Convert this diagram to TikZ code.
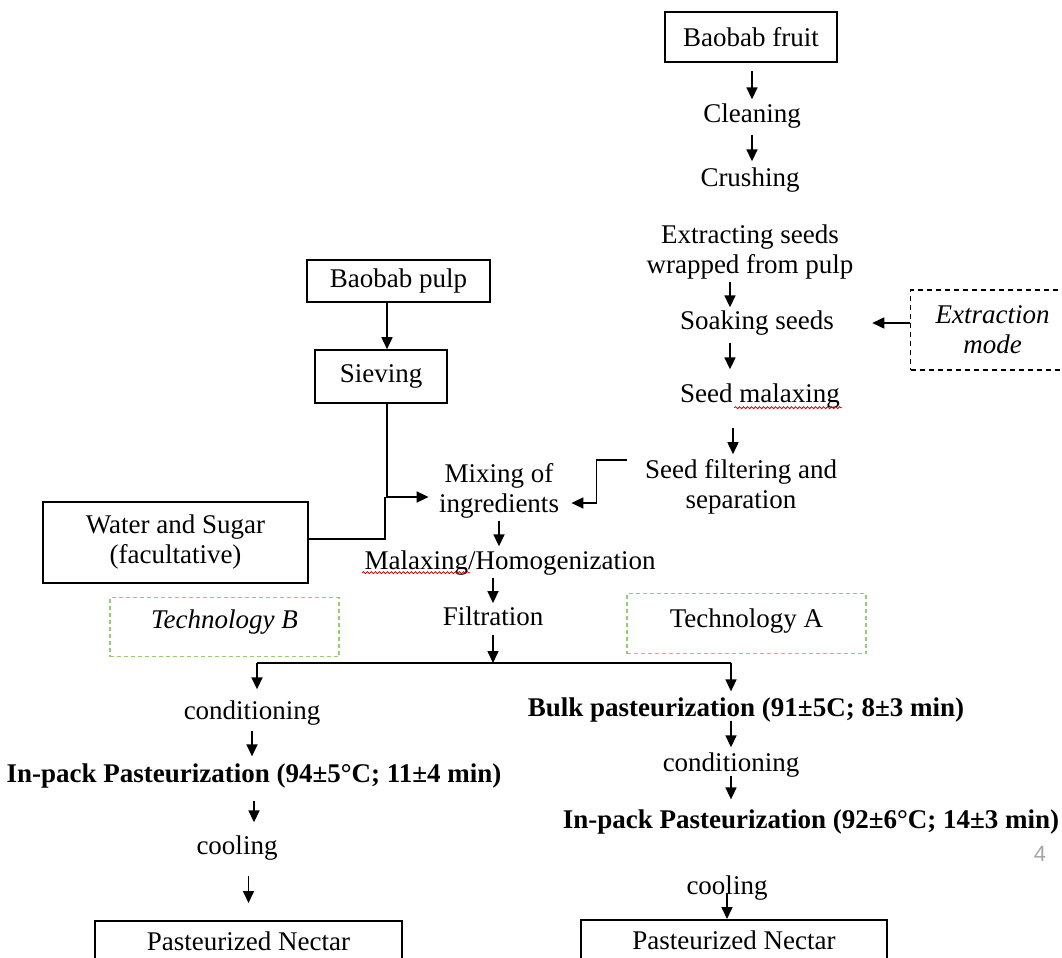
\documentclass[tikz,border=0pt]{standalone}
\usepackage{fontspec}
\setmainfont{Liberation Serif}
\newfontfamily\pagefont{Liberation Sans}
\usetikzlibrary{positioning, arrows.meta, calc, decorations.pathmorphing}
\definecolor{techgreen}{RGB}{146,208,110}
\definecolor{pagegray}{RGB}{165,165,165}

\begin{document}
\begin{tikzpicture}[x=0.5pt, y=-0.5pt,
  txt/.style     = {align=center, inner sep=1pt, font=\fontsize{13.5}{15}\selectfont},
  bold/.style    = {txt, font=\fontsize{13.5}{15}\selectfont\bfseries},
  box/.style     = {txt, draw, line width=0.8pt, inner sep=0pt},
  tech/.style    = {txt, draw=techgreen, line width=0.6pt, dash pattern=on 2pt off 1.5pt,
                    inner sep=0pt, anchor=north},
  modebox/.style = {txt, draw, line width=0.7pt, dash pattern=on 2.5pt off 2pt,
                    font=\fontsize{13.5}{15}\selectfont\itshape},
  flow/.style    = {-{Triangle[length=6pt,width=5.5pt]}, line width=0.8pt},
  link/.style    = {line width=0.8pt},
  squig/.style   = {red!85!black, line width=0.4pt, decorate,
                    decoration={snake, amplitude=0.5pt, segment length=2pt}},
]
\useasboundingbox (0,0) rectangle (1062,958);

% --- seed line -------------------------------------------------------------
\node[box, minimum width=86pt, minimum height=25pt] (fruit) at (751,37) {Baobab fruit};
\node[txt]  (clean)   at (752,116) {Cleaning};
\node[txt]  (crush)   at (750,180) {Crushing};
\node[txt]  (extract) at (750,252) {Extracting seeds\\wrapped from pulp};
\node[txt]  (soak)    at (757,323) {Soaking seeds};
\node[txt]  (malax)   at (760,396) {Seed malaxing};
\node[txt]  (filter)  at (741,487) {Seed filtering and\\separation};
\node[modebox, anchor=west, minimum width=82pt, minimum height=40pt] (ext) at (910,330)
     {Extraction\\mode};

% --- pulp line -------------------------------------------------------------
\node[box, minimum width=91.5pt, minimum height=21pt] (pulp)  at (398.5,281) {Baobab pulp};
\node[box, minimum width=66pt, minimum height=26.5pt] (sieve) at (381,376.5) {Sieving};
\node[box, minimum width=132.5pt, minimum height=40.5pt] (water) at (175.5,542.5)
     {Water and Sugar\\(facultative)};

% --- common steps ----------------------------------------------------------
\node[txt]  (mix)    at (499,491) {Mixing of\\ingredients};
\node[txt]  (homog)  at (510,563) {Malaxing/Homogenization};
\node[txt]  (filtr)  at (493,616) {Filtration};
\node[tech, minimum width=114.5pt, text height=15.5pt, text depth=14pt,
      font=\fontsize{13.5}{15}\selectfont\itshape] (techB) at (224.5,597) {Technology B};
\node[tech, minimum width=119.5pt, text height=17pt, text depth=13pt] (techA) at (746.5,593)
     {Technology A};

% --- technology B ----------------------------------------------------------
\node[txt]  (condB) at (252,713) {conditioning};
\node[bold] (inpB)  at (254,776) {In-pack Pasteurization (94±5°C; 11±4 min)};
\node[txt]  (coolB) at (237,848) {cooling};
\node[box, anchor=north, minimum width=153.5pt, text height=15pt, text depth=30pt]
     (nectB) at (248.5,920) {Pasteurized Nectar};

% --- technology A ----------------------------------------------------------
\node[bold] (bulk)  at (746,710) {Bulk pasteurization (91±5C; 8±3 min)};
\node[txt]  (condA) at (731,765) {conditioning};
\node[bold] (inpA)  at (811,822) {In-pack Pasteurization (92±6°C; 14±3 min)};
\node[txt]  (coolA) at (727,888) {cooling};
\node[box, anchor=north, minimum width=153pt, text height=15pt, text depth=30pt]
     (nectA) at (734,919) {Pasteurized Nectar};

\node[font=\fontsize{11}{12}\selectfont\pagefont, text=pagegray] (page) at (1040,854) {4};

% --- seed arrows -----------------------------------------------------------
\draw[flow, shorten <=4pt, shorten >=1pt] (fruit.south -| clean) -- (clean.north);
\draw[flow, shorten <=2pt, shorten >=2pt] (clean.south) -- (clean.south |- crush.north);
\coordinate (e1) at ([xshift=-10pt]extract.south);
\draw[flow, shorten >=0.5pt] (e1) -- (e1 |- soak.north);
\coordinate (k1) at ([xshift=-13.5pt]soak.south);
\draw[flow, shorten <=2.5pt, shorten >=6pt] (k1) -- (k1 |- malax.north);
\coordinate (x1) at ([xshift=-13.5pt]malax.south);
\draw[flow, shorten <=8.5pt, shorten >=1.5pt] (x1) -- (x1 |- filter.north);
\draw[flow, shorten >=18pt] (ext.west |- soak.east) -- (soak.east);
\draw[squig] ([shift={(-54pt,1.5pt)}]malax.south east) -- ([yshift=1.5pt]malax.south east);

% --- into mixing -----------------------------------------------------------
\coordinate (p1) at ([xshift=-5.75pt]pulp.south);
\draw[flow] (p1) -- (p1 |- sieve.north);
\coordinate (s1) at ([xshift=3pt]sieve.south);
\draw[flow, shorten >=4pt] (s1) |- ([yshift=-3pt]mix.west);
\draw[link] ([yshift=1.75pt]water.east) -- ++(38pt,0) -- ++(0,21pt);
\coordinate (f1) at ([shift={(-8pt,-1.5pt)}]filter.north west);
\draw[flow, shorten >=5pt] (f1) -- ++(-15pt,0) |- ([yshift=-6pt]mix.east);

% --- common arrows ---------------------------------------------------------
\draw[flow, shorten >=1pt] (mix.south) -- (mix.south |- homog.north);
\draw[flow, shorten >=0.5pt] (filtr.north |- homog.south) -- (filtr.north);
\draw[squig] ([yshift=2.5pt]homog.south west) -- ([shift={(54pt,2.5pt)}]homog.south west);

\coordinate (fork)  at (495,663);
\coordinate (forkB) at (257,663);
\coordinate (forkA) at (731,663);
\draw[flow, shorten <=3.5pt] (filtr.south) -- (filtr.south |- fork);
\draw[link] (forkB) -- (forkA);

% --- technology B arrows ---------------------------------------------------
\draw[flow, shorten >=4.5pt] (forkB) -- (forkB |- condB.north);
\draw[flow, shorten <=1.5pt, shorten >=2.5pt] (condB.south) -- (condB.south |- inpB.north);
\draw[flow, shorten <=5pt, shorten >=5.5pt] (inpB.south) -- (inpB.south |- coolB.north);
\draw[flow, shorten <=6.5pt, shorten >=8.5pt] (nectB.north |- coolB.south) -- (nectB.north);

% --- technology A arrows ---------------------------------------------------
\draw[flow, shorten >=2pt] (forkA) -- (forkA |- bulk.north);
\draw[flow, shorten <=-2pt, shorten >=1.5pt] (condA.north |- bulk.south) -- (condA.north);
\draw[flow, shorten <=-2pt, shorten >=4pt] (condA.south) -- (condA.south |- inpA.north);
\draw[flow, shorten <=-5pt] (coolA.south) -- (coolA.south |- nectA.north);

\end{tikzpicture}
\end{document}
